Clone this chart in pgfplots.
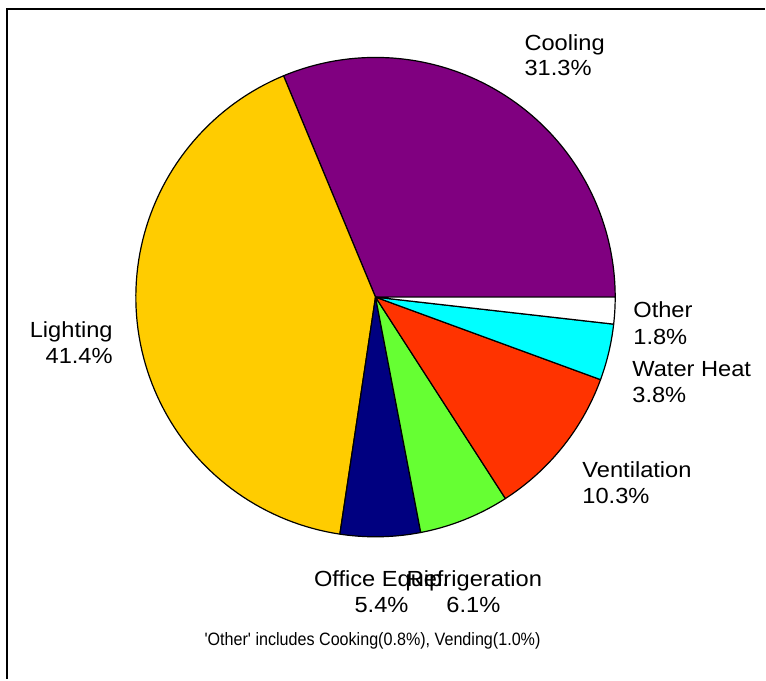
\documentclass[border=0pt]{standalone}
\usepackage{pgfplots}
\pgfplotsset{compat=1.18}
\usepackage{graphicx}
\usepackage{fontspec}
\setmainfont{Liberation Sans}[Ligatures=TeXOff]
\definecolor{cCool}{HTML}{800080}
\definecolor{cLight}{HTML}{FFCC00}
\definecolor{cOffice}{HTML}{000080}
\definecolor{cRefr}{HTML}{66FF33}
\definecolor{cVent}{HTML}{FF3300}
\definecolor{cWater}{HTML}{00FFFF}
\definecolor{cOther}{HTML}{FFFFFF}
\newcommand{\lab}[1]{\fontsize{22}{26}\selectfont\scalebox{1.08}[1]{#1}}
% slice: colour, start %, end % (cumulative), total 100.1
\newcommand{\slice}[3]{%
  \addplot[fill=#1, draw=black, line width=1.2bp, line join=round, domain={360/100.1*#2}:{360/100.1*#3}, samples=90, variable=\t]
    ({376+240*cos(\t)},{297.5-240*sin(\t)}) -- (axis cs:376,297.5) -- cycle;}
\begin{document}
\begin{tikzpicture}
\begin{axis}[x=1bp, y=1bp, xmin=0, xmax=766, ymin=0, ymax=680, y dir=reverse,
  hide axis, clip=false]
\path[draw=none] (axis cs:0,0) rectangle (axis cs:766,680);
% percentages: Cooling 31.3, Lighting 41.4, Office Equip. 5.4, Refrigeration 6.1,
% Ventilation 10.3, Water Heat 3.8, Other 1.8
\slice{cCool}{0}{31.3}
\slice{cLight}{31.3}{72.7}
\slice{cOffice}{72.7}{78.1}
\slice{cRefr}{78.1}{84.2}
\slice{cVent}{84.2}{94.5}
\slice{cWater}{94.5}{98.3}
\slice{cOther}{98.3}{100.1}
\draw[line width=2bp] (axis cs:7,680) -- (axis cs:7,9) -- (axis cs:766,9);
\node[anchor=base west, inner sep=0] at (axis cs:525,51) {\lab{Cooling}};
\node[anchor=base west, inner sep=0] at (axis cs:525,76) {\lab{31.3\%}};
\node[anchor=base east, inner sep=0] at (axis cs:113,338) {\lab{Lighting}};
\node[anchor=base east, inner sep=0] at (axis cs:113,364) {\lab{41.4\%}};
\node[anchor=base west, inner sep=0] at (axis cs:634,318) {\lab{Other}};
\node[anchor=base west, inner sep=0] at (axis cs:634,345) {\lab{1.8\%}};
\node[anchor=base west, inner sep=0] at (axis cs:633,377) {\lab{Water Heat}};
\node[anchor=base west, inner sep=0] at (axis cs:633,403) {\lab{3.8\%}};
\node[anchor=base west, inner sep=0] at (axis cs:583,478) {\lab{Ventilation}};
\node[anchor=base west, inner sep=0] at (axis cs:583,504) {\lab{10.3\%}};
\node[anchor=base, inner sep=0] at (axis cs:382,587) {\lab{Office Equip.}};
\node[anchor=base, inner sep=0] at (axis cs:382,613) {\lab{5.4\%}};
\node[anchor=base, inner sep=0] at (axis cs:475,587) {\lab{Refrigeration}};
\node[anchor=base, inner sep=0] at (axis cs:474,613) {\lab{6.1\%}};
\node[anchor=base, inner sep=0] at (axis cs:373,646) {\fontsize{18}{20}\selectfont\scalebox{0.9}[1]{'Other' includes Cooking(0.8\%), Vending(1.0\%)}};
\end{axis}
\end{tikzpicture}
\end{document}
